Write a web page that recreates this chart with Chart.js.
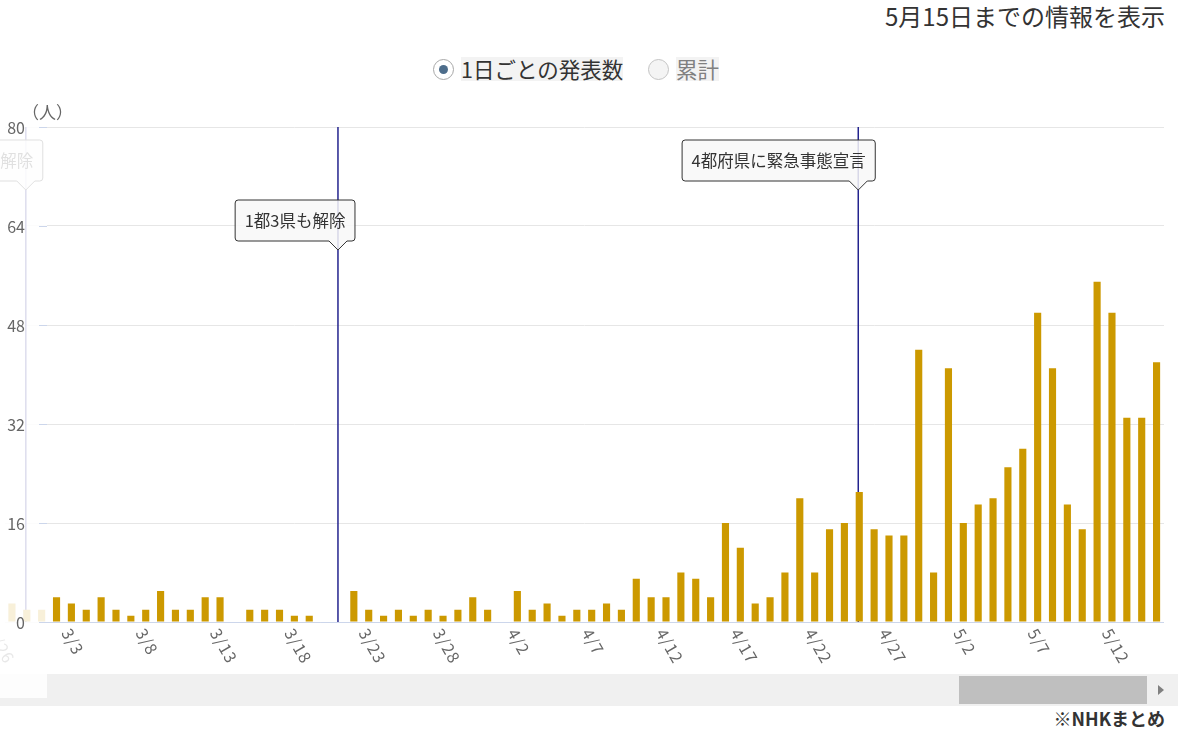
<!DOCTYPE html>
<html lang="ja">
<head>
<meta charset="utf-8">
<script src="https://cdn.jsdelivr.net/npm/chart.js@4.4.0/dist/chart.umd.min.js"></script>
<style>
  body { margin: 0; background: #fff; font-family: 'Noto Sans CJK JP', sans-serif; }
  #wrap { position: relative; width: 1200px; height: 739px; overflow: hidden; }
  #title { position: absolute; right: 35px; top: 0px; font-size: 24px; color: #333; line-height: 32px; }
  .opt { position: absolute; top: 55px; height: 28px; display: flex; align-items: center; }
  .circle { width: 19px; height: 19px; border: 1.5px solid #a8a8a8; border-radius: 50%; background: #fff;
            display: flex; align-items: center; justify-content: center; margin-right: 7px; }
  .circle.off { background: #f4f4f4; border-color: #c4c4c4; }
  .circle .dot { width: 9px; height: 9px; border-radius: 50%; background: #4d6d8b; }
  .lbl { background: #f3f3f3; font-size: 21.5px; line-height: 24px; color: #333; }
  .lbl.off { color: #808080; }
  #track { position: absolute; left: 0; top: 674px; width: 1178px; height: 32px; background: #f0f0f0; }
  #thumb { position: absolute; left: 959px; top: 676px; width: 188px; height: 28px; background: #bfbfbf; }
  #arrow { position: absolute; left: 1158px; top: 685px; width: 0; height: 0;
           border-left: 6px solid #808080; border-top: 5px solid transparent; border-bottom: 5px solid transparent; }
  #source { position: absolute; right: 35px; top: 705px; font-size: 18px; font-weight: bold; color: #333; line-height: 26px; }
  #c { position: absolute; left: 0; top: 0; }
</style>
</head>
<body>
<div id="wrap">
  <div id="title">5月15日までの情報を表示</div>
  <div class="opt" style="left:433px"><span class="circle"><span class="dot"></span></span><span class="lbl">1日ごとの発表数</span></div>
  <div class="opt" style="left:648px"><span class="circle off"></span><span class="lbl off">累計</span></div>
  <div id="track"></div>
  <div id="thumb"></div>
  <div id="arrow"></div>
  <div id="source">※NHKまとめ</div>
  <canvas id="c" width="1200" height="739"></canvas>
</div>
<script>
// dates shown on the (scrolled) axis, 2/26 is only partly visible
const categories = [
  '2/26', '2/27', '2/28',
  '3/1', '3/2', '3/3', '3/4', '3/5', '3/6', '3/7', '3/8', '3/9', '3/10',
  '3/11', '3/12', '3/13', '3/14', '3/15', '3/16', '3/17', '3/18', '3/19', '3/20',
  '3/21', '3/22', '3/23', '3/24', '3/25', '3/26', '3/27', '3/28', '3/29', '3/30', '3/31',
  '4/1', '4/2', '4/3', '4/4', '4/5', '4/6', '4/7', '4/8', '4/9', '4/10',
  '4/11', '4/12', '4/13', '4/14', '4/15', '4/16', '4/17', '4/18', '4/19', '4/20',
  '4/21', '4/22', '4/23', '4/24', '4/25', '4/26', '4/27', '4/28', '4/29', '4/30',
  '5/1', '5/2', '5/3', '5/4', '5/5', '5/6', '5/7', '5/8', '5/9', '5/10',
  '5/11', '5/12', '5/13', '5/14', '5/15'
];

// 1日ごとの発表数（人）
const dailyCases = [
  6, 3, 2,
  2, 4, 3, 2, 4, 2, 1, 2, 5, 2,
  2, 4, 4, 0, 2, 2, 2, 1, 1, 0,
  0, 5, 2, 1, 2, 1, 2, 1, 2, 4, 2,
  0, 5, 2, 3, 1, 2, 2, 3, 2, 7,
  4, 4, 8, 7, 4, 16, 12, 3, 4, 8,
  20, 8, 15, 16, 21, 15, 14, 14, 44, 8,
  41, 16, 19, 20, 25, 28, 50, 41, 19, 15,
  55, 50, 33, 33, 42
];

const tickLabels = ['2/26', '3/3', '3/8', '3/13', '3/18', '3/23', '3/28', '4/2',
                    '4/7', '4/12', '4/17', '4/22', '4/27', '5/2', '5/7', '5/12'];
const yTicks = [0, 16, 32, 48, 64, 80];

// plot lines
const eventDates = ['2/28', '3/21', '4/25'];
const eventTexts = ['6府県で解除', '1都3県も解除', '4都府県に緊急事態宣言'];

const FONT = '"Noto Sans CJK JP", sans-serif';
const calloutTop = [140, 200, 140];

function drawCallout(ctx, px, top, text) {
  ctx.font = '16.5px ' + FONT;
  const w = ctx.measureText(text).width + 19;
  const h = 41, r = 3;
  const right = px + 17, left = right - w, bottom = top + h;
  ctx.beginPath();
  ctx.moveTo(left + r, top);
  ctx.lineTo(right - r, top);
  ctx.arcTo(right, top, right, top + r, r);
  ctx.lineTo(right, bottom - r);
  ctx.arcTo(right, bottom, right - r, bottom, r);
  ctx.lineTo(px + 9, bottom);
  ctx.lineTo(px, bottom + 9);
  ctx.lineTo(px - 9, bottom);
  ctx.lineTo(left + r, bottom);
  ctx.arcTo(left, bottom, left, bottom - r, r);
  ctx.lineTo(left, top + r);
  ctx.arcTo(left, top, left + r, top, r);
  ctx.closePath();
  ctx.fillStyle = 'rgba(248,248,248,0.85)';
  ctx.fill();
  ctx.strokeStyle = '#333';
  ctx.lineWidth = 1;
  ctx.stroke();
  ctx.fillStyle = '#333';
  ctx.textAlign = 'center';
  ctx.textBaseline = 'middle';
  ctx.fillText(text, (left + right) / 2, top + h / 2);
}

const decorations = {
  id: 'decorations',
  beforeDatasetsDraw(chart) {
    const { ctx, chartArea, scales: { x } } = chart;
    ctx.save();
    ctx.strokeStyle = '#23238e';
    ctx.lineWidth = 1.5;
    eventDates.forEach(d => {
      const px = x.getPixelForValue(categories.indexOf(d)) - 1;
      ctx.beginPath();
      ctx.moveTo(px, chartArea.top);
      ctx.lineTo(px, chartArea.bottom);
      ctx.stroke();
    });
    ctx.restore();
  },
  afterDatasetsDraw(chart) {
    const { ctx, chartArea, scales: { x, y } } = chart;
    ctx.save();

    eventDates.forEach((d, i) => {
      const px = x.getPixelForValue(categories.indexOf(d)) - 1;
      drawCallout(ctx, px, calloutTop[i], eventTexts[i]);
    });

    // rotated date labels
    ctx.font = '16px ' + FONT;
    ctx.letterSpacing = '1px';
    ctx.fillStyle = '#666';
    ctx.textAlign = 'left';
    ctx.textBaseline = 'top';
    tickLabels.forEach(lab => {
      const px = x.getPixelForValue(categories.indexOf(lab));
      ctx.save();
      ctx.translate(px + 1.5, chartArea.bottom + 4);
      ctx.rotate(Math.PI / 3);
      ctx.fillText(lab, 0, 0);
      ctx.restore();
    });
    ctx.letterSpacing = '0px';

    // fixed y-axis panel over the scrolled part
    ctx.fillStyle = 'rgba(255,255,255,0.85)';
    ctx.fillRect(0, 0, 47, 698);

    ctx.strokeStyle = '#ccd6eb';
    ctx.lineWidth = 1;
    ctx.beginPath();
    ctx.moveTo(39, chartArea.bottom + 0.5);
    ctx.lineTo(chartArea.right, chartArea.bottom + 0.5);
    ctx.stroke();

    ctx.font = '16px ' + FONT;
    ctx.fillStyle = '#666';
    ctx.textAlign = 'right';
    ctx.textBaseline = 'middle';
    yTicks.forEach(v => {
      const py = y.getPixelForValue(v);
      ctx.fillText(String(v), 25, py + 1);
      if (v > 0) {
        ctx.beginPath();
        ctx.moveTo(39, py + 0.5);
        ctx.lineTo(47, py + 0.5);
        ctx.stroke();
      }
    });

    ctx.font = '17px ' + FONT;
    ctx.textAlign = 'left';
    ctx.fillText('（人）', 22, 113);
    ctx.restore();
  }
};

new Chart(document.getElementById('c'), {
  type: 'bar',
  data: {
    labels: categories,
    datasets: [{
      data: dailyCases,
      backgroundColor: '#cc9900',
      borderWidth: 0,
      barPercentage: 0.48,
      categoryPercentage: 1
    }]
  },
  options: {
    responsive: false,
    animation: false,
    devicePixelRatio: 1,
    layout: { padding: { top: 127, bottom: 117, left: 4.5, right: 36 } },
    plugins: { legend: { display: false }, tooltip: { enabled: false } },
    scales: {
      x: {
        min: '2/27',
        ticks: { display: false },
        grid: { display: false, drawTicks: false },
        border: { display: false },
        afterFit: s => { s.height = 0; }
      },
      y: {
        min: 0,
        max: 80,
        ticks: { display: false, stepSize: 16 },
        grid: { color: '#e6e6e6', drawTicks: false },
        border: { display: false },
        afterFit: s => { s.width = 0; }
      }
    }
  },
  plugins: [decorations]
});
</script>
</body>
</html>
